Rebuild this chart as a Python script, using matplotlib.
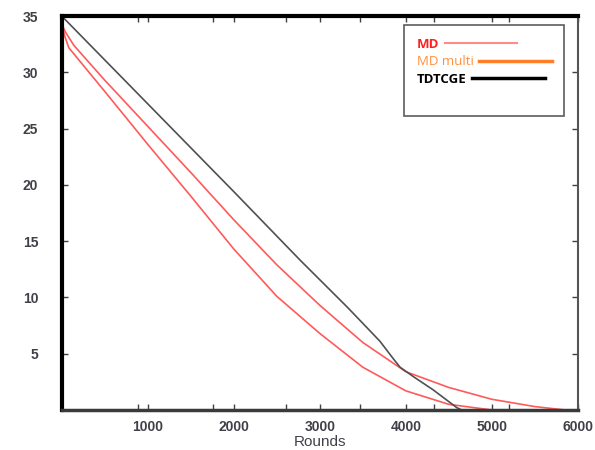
import matplotlib
matplotlib.use("Agg")
import matplotlib.pyplot as plt
from matplotlib.lines import Line2D

# values
tdtcge_x = [0, 1000, 2000, 2773, 3318, 3500, 3700, 3850, 3933, 4100, 4316, 4594, 4650]
tdtcge_y = [35, 27.2, 19.4, 13.3, 9.15, 7.7, 6.1, 4.6, 3.8, 2.9, 1.8, 0.2, 0]

multi_x = [0, 40, 140, 500, 1000, 1500, 2000, 2500, 3000, 3500, 4000, 4500, 5000, 5500, 5850, 6000]
multi_y = [34.3, 33.6, 32.4, 29.3, 25.2, 21.1, 16.9, 12.9, 9.3, 6.0, 3.4, 2.0, 0.95, 0.3, 0.0, 0.0]

md_x = [0, 30, 80, 500, 1000, 1500, 2000, 2500, 3000, 3500, 4000, 4500, 5000, 6000]
md_y = [34.3, 33.3, 32.2, 28.3, 23.6, 19.0, 14.3, 10.1, 6.8, 3.8, 1.7, 0.5, 0.0, 0.0]

legend_labels = ["MD", "MD multi", "TDTCGE"]
x_ticks = [1000, 2000, 3000, 4000, 5000, 6000]
x_minor = [882, 1752, 2610, 3469, 4327, 5197]
y_ticks = [5, 10, 15, 20, 25, 30, 35]

plt.rcParams['font.family'] = ['Liberation Sans', 'DejaVu Sans']

fig = plt.figure(figsize=(5.95, 4.5), dpi=100)
ax = fig.add_axes([0.104, 0.089, 0.867, 0.875])

ax.plot(md_x, md_y, color='#ff5a5a', lw=1.2)
ax.plot(multi_x, multi_y, color='#ff5a5a', lw=1.2)
ax.plot(tdtcge_x, tdtcge_y, color='#505050', lw=1.2)

ax.set_xlim(0, 6000)
ax.set_ylim(0, 35)
ax.set_xticks(x_ticks)
ax.set_xticks(x_minor, minor=True)
ax.set_yticks(y_ticks)
ax.tick_params(direction='in', top=True, right=True, length=4, width=1,
               labelsize=10, colors='#404048')
ax.tick_params(axis='y', pad=17)
ax.tick_params(axis='x', pad=7)
ax.tick_params(which='minor', direction='in', top=True, length=4, width=1, color='#404040')
for lab in ax.get_xticklabels() + ax.get_yticklabels():
    lab.set_fontweight('bold')
ax.set_xlabel("Rounds", fontsize=11, color='#404048', labelpad=1)

ax.spines['left'].set_linewidth(3)
ax.spines['left'].set_color('black')
ax.spines['top'].set_linewidth(3)
ax.spines['top'].set_color('black')
ax.spines['bottom'].set_linewidth(2.5)
ax.spines['bottom'].set_color('#3a3a3a')
ax.spines['right'].set_linewidth(1.5)
ax.spines['right'].set_color('#555555')

handles = [Line2D([], [], color='#ff8a8a', lw=1.5),
           Line2D([], [], color='#ff7f27', lw=2.5),
           Line2D([], [], color='black', lw=2.5),
           Line2D([], [], color='none')]
leg = ax.legend(handles, legend_labels + [" "], loc='upper left', bbox_to_anchor=(0.664, 0.977),
                borderaxespad=0, markerfirst=False, frameon=True, fancybox=False,
                handlelength=5.5, handletextpad=0.4, labelspacing=0.35, borderpad=0.95,
                prop={'family': 'Open Sans', 'size': 9.5})
# left-align labels like the original legend
for col in leg._legend_handle_box.get_children():
    col.align = 'left'
leg.get_frame().set_edgecolor('#333333')
leg.get_frame().set_linewidth(1.2)
text_styles = [('#ff2020', 'bold'), ('#ff9040', 'normal'), ('black', 'bold'), ('black', 'normal')]
for t, (c, w) in zip(leg.get_texts(), text_styles):
    t.set_color(c)
    t.set_fontweight(w)

plt.savefig("out.png", dpi=100)
